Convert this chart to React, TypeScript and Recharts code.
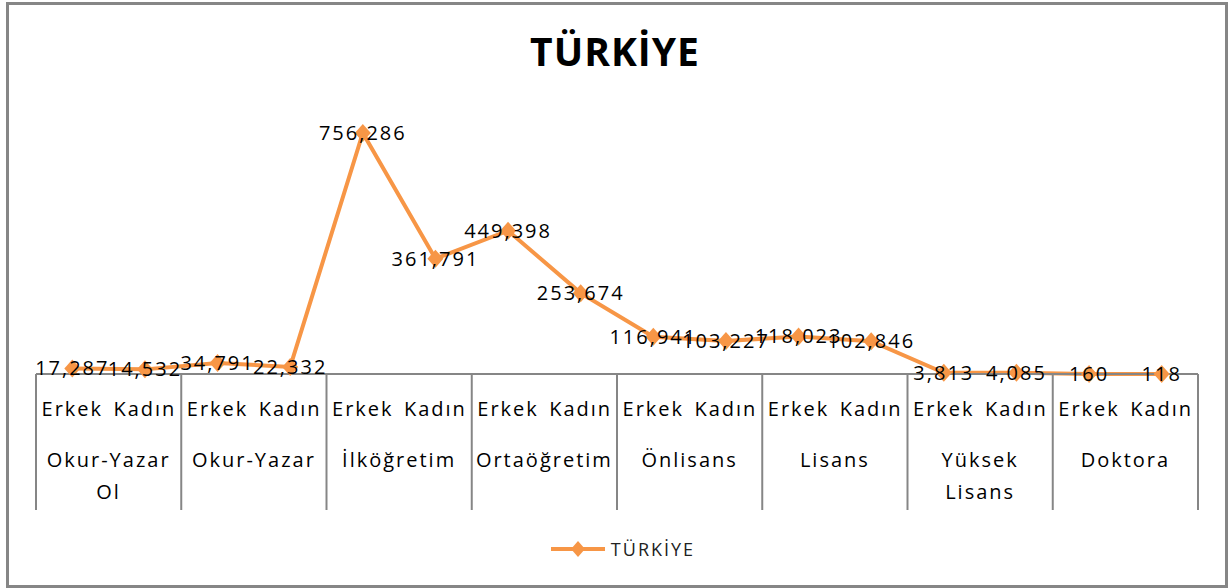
import { LineChart, Line, XAxis, YAxis, Legend, LabelList } from 'recharts';

const groups = ['Okur-Yazar Ol', 'Okur-Yazar', 'İlköğretim', 'Ortaöğretim', 'Önlisans', 'Lisans', 'Yüksek Lisans', 'Doktora'];
const genders = ['Erkek', 'Kadın'];
const values = [
  17287, 14532, 34791, 22332, 756286, 361791, 449398, 253674,
  116941, 103227, 118023, 102846, 3813, 4085, 160, 118,
];
const seriesName = 'TÜRKİYE';

const data = values.map((v, i) => ({
  idx: i,
  cins: genders[i % 2],
  grup: groups[Math.floor(i / 2)],
  [seriesName]: v,
}));

const W = 1228;
const H = 588;
const M = { top: 119, right: 30, bottom: 0, left: 36 };
const BAND = (W - M.left - M.right) / data.length;
const ORANGE = '#F79646';
const GRID = '#868686';
const FONT = '"Open Sans", sans-serif';

function splitLabel(s: string) {
  const k = s.lastIndexOf(' ');
  return k > 0 ? [s.slice(0, k), s.slice(k + 1)] : [s];
}

function CatTick(props: any) {
  const { x, y, payload } = props;
  const i = payload.value as number;
  const row = data[i];
  const txt = { fontFamily: FONT, fontSize: 20, letterSpacing: 2, fill: '#000', textAnchor: 'middle' as const };
  return (
    <g>
      <text x={x} y={y + 42} {...txt}>{row.cins}</text>
      {i % 2 === 0 && (
        <>
          <line x1={x - BAND / 2} x2={x - BAND / 2} y1={y} y2={y + 136} stroke={GRID} strokeWidth={2} />
          {splitLabel(row.grup).map((ln, j) => (
            <text key={j} x={x + BAND / 2} y={y + 93 + j * 32} {...txt}>{ln}</text>
          ))}
        </>
      )}
      {i === data.length - 1 && (
        <line x1={x + BAND / 2} x2={x + BAND / 2} y1={y} y2={y + 136} stroke={GRID} strokeWidth={2} />
      )}
    </g>
  );
}

function Diamond(p: any) {
  const { cx, cy } = p;
  return (
    <polygon
      key={p.index}
      points={`${cx},${cy - 9} ${cx + 8},${cy} ${cx},${cy + 9} ${cx - 8},${cy}`}
      fill={ORANGE}
    />
  );
}

function ValueLabel(p: any) {
  const { x, y, value } = p;
  return (
    <text x={x} y={y + 7} textAnchor="middle" fontFamily={FONT} fontSize={20} letterSpacing={2} fill="#000">
      {Number(value).toLocaleString('en-US')}
    </text>
  );
}

function LegendBox() {
  return (
    <div style={{ height: 78, display: 'flex', justifyContent: 'center', alignItems: 'center', paddingLeft: 10 }}>
      <svg width={58} height={20}>
        <line x1={2} x2={56} y1={10} y2={10} stroke={ORANGE} strokeWidth={4} />
        <polygon points="29,2 36,10 29,18 22,10" fill={ORANGE} />
      </svg>
      <span style={{ fontFamily: FONT, fontSize: 18, letterSpacing: 2, color: '#222', marginLeft: 4 }}>{seriesName}</span>
    </div>
  );
}

export default function App() {
  return (
    <div style={{ position: 'absolute', left: 0, top: 0, width: W, height: H, background: '#fff' }}>
      <div
        style={{
          position: 'absolute', left: 6, top: 2, width: W - 6, height: H - 2,
          border: `3px solid ${GRID}`, boxSizing: 'border-box',
        }}
      />
      <div
        style={{
          position: 'absolute', left: 0, top: 24, width: 1230, textAlign: 'center',
          fontFamily: FONT, fontWeight: 700, fontSize: 39, letterSpacing: 1, color: '#000',
        }}
      >
        {seriesName}
      </div>
      <div style={{ position: 'absolute', left: 0, top: 0 }}>
        <LineChart width={W} height={H} data={data} margin={M}>
          <XAxis
            dataKey="idx"
            scale="band"
            interval={0}
            height={136}
            tickLine={false}
            tickSize={0}
            tickMargin={0}
            axisLine={{ stroke: GRID, strokeWidth: 2 }}
            tick={<CatTick />}
          />
          <YAxis hide domain={[0, 800000]} />
          <Legend verticalAlign="bottom" content={<LegendBox />} />
          <Line
            type="linear"
            dataKey={seriesName}
            stroke={ORANGE}
            strokeWidth={4}
            dot={Diamond}
            activeDot={false}
            isAnimationActive={false}
          >
            <LabelList dataKey={seriesName} content={<ValueLabel />} />
          </Line>
        </LineChart>
      </div>
    </div>
  );
}
